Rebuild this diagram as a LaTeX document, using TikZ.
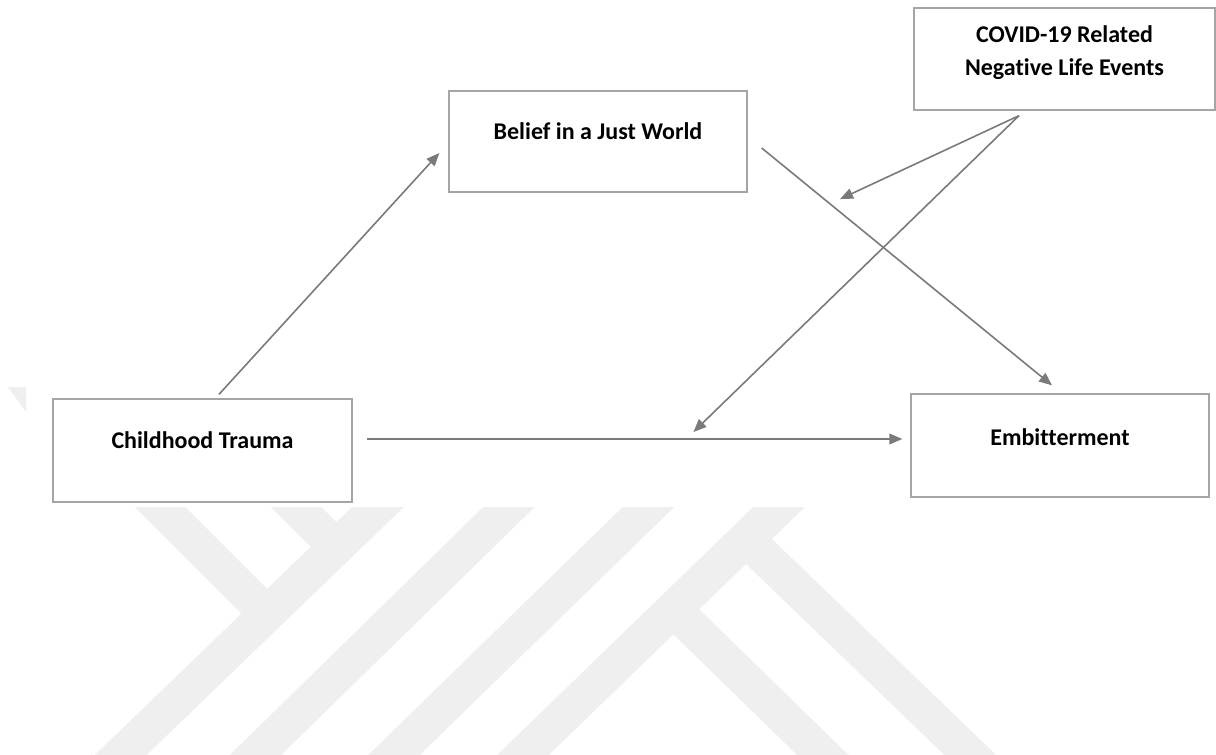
\documentclass[tikz,border=0pt]{standalone}
\usepackage{fontspec}
\setmainfont[Ligatures=NoCommon]{Carlito}
\usetikzlibrary{arrows.meta,positioning,calc}
\definecolor{linegray}{RGB}{122,122,122}
\definecolor{boxgray}{RGB}{165,165,165}
\definecolor{markgray}{RGB}{239,239,239}

\begin{document}
\begin{tikzpicture}[x=0.75pt, y=-0.75pt, ->, >={Triangle[length=9.75pt,width=8pt]},
    line width=1.2pt,
    every node/.style={font=\bfseries\fontsize{18}{24.75}\selectfont},
    box/.style={draw=boxgray, line width=1pt, inner sep=0pt, align=center},
    link/.style={draw=linegray},
    wmark/.style={-, draw=markgray, line width=27pt}
    ]
\useasboundingbox (0,0) rectangle (1216,755);
% \draw[help lines] (0,0) grid[step=100] (1216,755);
% watermark
\begin{scope}
\clip (0,507) rectangle (1216,755);
\draw[wmark] (74,800) -- (406,480);
\draw[wmark] (209.5,800) -- (536.6,480);
\draw[wmark] (347.8,800) -- (676.2,480);
\draw[wmark] (476.5,800) -- (806.9,480);
\draw[wmark] (133,480) -- (267,614);
\draw[wmark] (269,480) -- (336,547);
\draw[wmark] (746,539) -- (1017,800);
\draw[wmark] (669,605) -- (869,800);
\end{scope}
\fill[-, markgray] (8,387) -- (26,387) -- (26,412) -- cycle;
% boxes
\node[box, minimum width=224.25pt, text height=36.75pt, text depth=40.5pt]
    (trauma) at (202.5,450.5) {Childhood Trauma};
\node[box, minimum width=223.5pt, text height=36.75pt, text depth=39pt]
    (belief) at (598,141.5) {Belief in a Just World};
\node[box, minimum width=223.5pt, text height=38.25pt, text depth=39pt]
    (embit) at (1060,445.5) {Embitterment};
\node[box, minimum width=225.75pt, text height=51pt, text depth=25.5pt]
    (covid) at (1064.5,59) {COVID-19 Related\\Negative Life Events};
% links
\draw[link] ($(trauma.north)+(16.5,-4)$) -- ($(belief.west)+(-9,11.5)$);
\draw[link] ($(trauma.east)+(14,-11.5)$) -- coordinate[pos=0.61, yshift=5.25pt] (mod2)
    ($(embit.west)+(-8,-6.5)$);
\draw[link] ($(belief.east)+(14,6.5)$) -- coordinate[pos=0.27, yshift=9.75pt] (mod1)
    ($(embit.north)+(-8,-8)$);
% moderation
\draw[link] ($(covid.south)+(-45.5,5)$) -- (mod1);
\draw[link] ($(covid.south)+(-45.5,5)$) -- (mod2);
\end{tikzpicture}
\end{document}
